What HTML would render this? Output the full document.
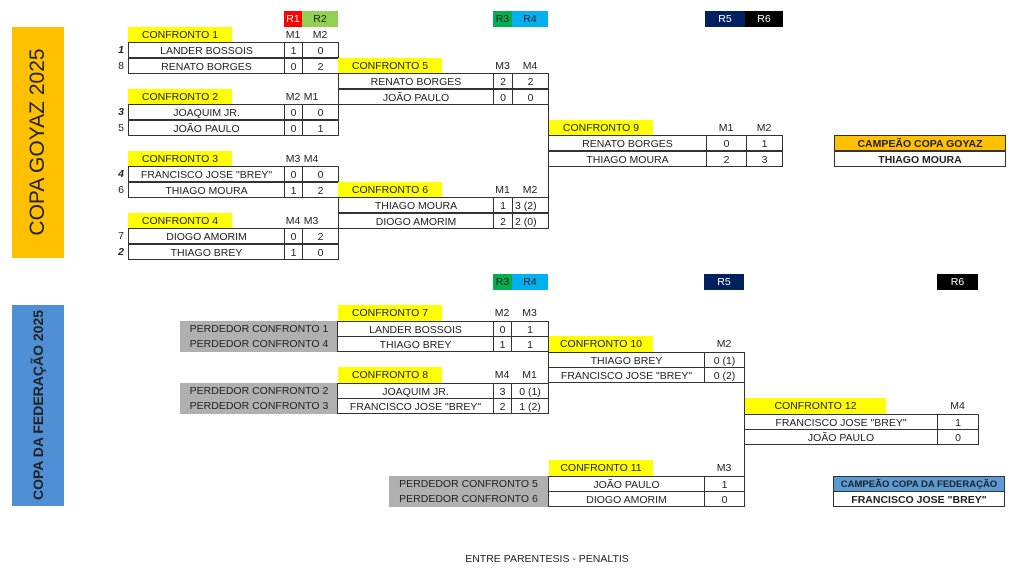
<!DOCTYPE html>
<html><head><meta charset="utf-8"><style>
body{margin:0;width:1024px;height:578px;background:#fff;position:relative;overflow:hidden;font-family:"Liberation Sans Narrow","Liberation Sans",sans-serif;color:#222}
.c{position:absolute;height:16px;line-height:16px;font-size:10.5px;text-align:center;box-sizing:border-box;white-space:nowrap;overflow:hidden}
.b{border:1px solid #333}
.y{background:#ffff00}
.g{background:#b0b0b0}
.n{text-align:right;font-size:10.5px}
.bi{font-weight:bold;font-style:italic}
.v{position:absolute;width:1px;background:#333}
.w{color:#fff}
</style></head><body>

<!-- title boxes -->
<div style="position:absolute;left:12px;top:27px;width:52px;height:231px;background:#ffc000"></div>
<div style="position:absolute;left:38px;top:142px;transform:translate(-50%,-50%) rotate(-90deg);font-family:'Liberation Sans',sans-serif;font-size:21px;white-space:nowrap;color:#222">COPA GOYAZ 2025</div>
<div style="position:absolute;left:12px;top:305px;width:52px;height:201px;background:#4f8fd6"></div>
<div style="position:absolute;left:38px;top:405px;transform:translate(-50%,-50%) rotate(-90deg);font-family:'Liberation Sans',sans-serif;font-size:14px;font-weight:bold;white-space:nowrap;color:#222">COPA DA FEDERAÇÃO 2025</div>

<!-- top round headers -->
<div class="c w" style="left:284px;top:11px;width:18px;background:#ff0000">R1</div>
<div class="c" style="left:302px;top:11px;width:36px;background:#92d050">R2</div>
<div class="c" style="left:493px;top:11px;width:19px;background:#00b050">R3</div>
<div class="c" style="left:512px;top:11px;width:36px;background:#00b0f0">R4</div>
<div class="c w" style="left:705px;top:11px;width:40px;background:#002060">R5</div>
<div class="c w" style="left:745px;top:11px;width:38px;background:#000">R6</div>

<!-- C1 -->
<div class="c y" style="left:128px;top:26.5px;width:104px">CONFRONTO 1</div>
<div class="c" style="left:284px;top:26.5px;width:18px">M1</div>
<div class="c" style="left:302px;top:26.5px;width:36px">M2</div>
<div class="c n bi" style="left:100px;top:42px;width:24px">1</div>
<div class="c n" style="left:100px;top:57.5px;width:24px">8</div>
<div class="c b" style="left:128px;top:42px;width:157px">LANDER BOSSOIS</div>
<div class="c b" style="left:284px;top:42px;width:19px">1</div>
<div class="c b" style="left:302px;top:42px;width:37px">0</div>
<div class="c b" style="left:128px;top:57.5px;width:157px">RENATO BORGES</div>
<div class="c b" style="left:284px;top:57.5px;width:19px">0</div>
<div class="c b" style="left:302px;top:57.5px;width:37px">2</div>

<!-- C2 -->
<div class="c y" style="left:128px;top:88.5px;width:104px">CONFRONTO 2</div>
<div class="c" style="left:284px;top:88.5px;width:18px">M2</div>
<div class="c" style="left:302px;top:88.5px;width:18px">M1</div>
<div class="c n bi" style="left:100px;top:104px;width:24px">3</div>
<div class="c n" style="left:100px;top:119.5px;width:24px">5</div>
<div class="c b" style="left:128px;top:104px;width:157px">JOAQUIM JR.</div>
<div class="c b" style="left:284px;top:104px;width:19px">0</div>
<div class="c b" style="left:302px;top:104px;width:37px">0</div>
<div class="c b" style="left:128px;top:119.5px;width:157px">JOÃO PAULO</div>
<div class="c b" style="left:284px;top:119.5px;width:19px">0</div>
<div class="c b" style="left:302px;top:119.5px;width:37px">1</div>

<!-- C3 -->
<div class="c y" style="left:128px;top:150.5px;width:104px">CONFRONTO 3</div>
<div class="c" style="left:284px;top:150.5px;width:18px">M3</div>
<div class="c" style="left:302px;top:150.5px;width:18px">M4</div>
<div class="c n bi" style="left:100px;top:166px;width:24px">4</div>
<div class="c n" style="left:100px;top:181.5px;width:24px">6</div>
<div class="c b" style="left:128px;top:166px;width:157px">FRANCISCO JOSE "BREY"</div>
<div class="c b" style="left:284px;top:166px;width:19px">0</div>
<div class="c b" style="left:302px;top:166px;width:37px">0</div>
<div class="c b" style="left:128px;top:181.5px;width:157px">THIAGO MOURA</div>
<div class="c b" style="left:284px;top:181.5px;width:19px">1</div>
<div class="c b" style="left:302px;top:181.5px;width:37px">2</div>

<!-- C4 -->
<div class="c y" style="left:128px;top:212.5px;width:104px">CONFRONTO 4</div>
<div class="c" style="left:284px;top:212.5px;width:18px">M4</div>
<div class="c" style="left:302px;top:212.5px;width:18px">M3</div>
<div class="c n" style="left:100px;top:228px;width:24px">7</div>
<div class="c n bi" style="left:100px;top:243.5px;width:24px">2</div>
<div class="c b" style="left:128px;top:228px;width:157px">DIOGO AMORIM</div>
<div class="c b" style="left:284px;top:228px;width:19px">0</div>
<div class="c b" style="left:302px;top:228px;width:37px">2</div>
<div class="c b" style="left:128px;top:243.5px;width:157px">THIAGO BREY</div>
<div class="c b" style="left:284px;top:243.5px;width:19px">1</div>
<div class="c b" style="left:302px;top:243.5px;width:37px">0</div>

<!-- C5 -->
<div class="c y" style="left:338px;top:57.5px;width:104px">CONFRONTO 5</div>
<div class="c" style="left:493px;top:57.5px;width:19px">M3</div>
<div class="c" style="left:512px;top:57.5px;width:36px">M4</div>
<div class="c b" style="left:338px;top:73px;width:156px">RENATO BORGES</div>
<div class="c b" style="left:493px;top:73px;width:20px">2</div>
<div class="c b" style="left:512px;top:73px;width:37px">2</div>
<div class="c b" style="left:338px;top:88.5px;width:156px">JOÃO PAULO</div>
<div class="c b" style="left:493px;top:88.5px;width:20px">0</div>
<div class="c b" style="left:512px;top:88.5px;width:37px">0</div>

<!-- C6 -->
<div class="c y" style="left:338px;top:181.5px;width:104px">CONFRONTO 6</div>
<div class="c" style="left:493px;top:181.5px;width:19px">M1</div>
<div class="c" style="left:512px;top:181.5px;width:36px">M2</div>
<div class="c b" style="left:338px;top:197px;width:156px">THIAGO MOURA</div>
<div class="c b" style="left:493px;top:197px;width:20px">1</div>
<div class="c b" style="left:512px;top:197px;width:37px;text-align:left;padding-left:2px">3 (2)</div>
<div class="c b" style="left:338px;top:212.5px;width:156px">DIOGO AMORIM</div>
<div class="c b" style="left:493px;top:212.5px;width:20px">2</div>
<div class="c b" style="left:512px;top:212.5px;width:37px;text-align:left;padding-left:2px">2 (0)</div>

<div class="v" style="left:548px;top:73px;height:155px"></div>

<!-- C9 -->
<div class="c y" style="left:549px;top:119.5px;width:104px">CONFRONTO 9</div>
<div class="c" style="left:706px;top:119.5px;width:40px">M1</div>
<div class="c" style="left:746px;top:119.5px;width:36px">M2</div>
<div class="c b" style="left:548px;top:135px;width:159px">RENATO BORGES</div>
<div class="c b" style="left:706px;top:135px;width:41px">0</div>
<div class="c b" style="left:746px;top:135px;width:37px">1</div>
<div class="c b" style="left:548px;top:150.5px;width:159px">THIAGO MOURA</div>
<div class="c b" style="left:706px;top:150.5px;width:41px">2</div>
<div class="c b" style="left:746px;top:150.5px;width:37px">3</div>

<div class="c b" style="left:834px;top:135px;width:172px;background:#ffc000;font-weight:bold">CAMPEÃO COPA GOYAZ</div>
<div class="c b" style="left:834px;top:150.5px;width:172px;font-weight:bold">THIAGO MOURA</div>

<!-- bottom headers -->
<div class="c" style="left:493px;top:274px;width:19px;background:#00b050">R3</div>
<div class="c" style="left:512px;top:274px;width:36px;background:#00b0f0">R4</div>
<div class="c w" style="left:704px;top:274px;width:40px;background:#002060">R5</div>
<div class="c w" style="left:937px;top:274px;width:41px;background:#000">R6</div>

<!-- C7 -->
<div class="c y" style="left:338px;top:305px;width:104px">CONFRONTO 7</div>
<div class="c" style="left:493px;top:305px;width:18px">M2</div>
<div class="c" style="left:511px;top:305px;width:37px">M3</div>
<div class="c g" style="left:180px;top:320.5px;width:158px">PERDEDOR CONFRONTO 1</div>
<div class="c g" style="left:180px;top:336px;width:158px">PERDEDOR CONFRONTO 4</div>
<div class="c b" style="left:337px;top:320.5px;width:157px">LANDER BOSSOIS</div>
<div class="c b" style="left:493px;top:320.5px;width:19px">0</div>
<div class="c b" style="left:511px;top:320.5px;width:38px">1</div>
<div class="c b" style="left:337px;top:336px;width:157px">THIAGO BREY</div>
<div class="c b" style="left:493px;top:336px;width:19px">1</div>
<div class="c b" style="left:511px;top:336px;width:38px">1</div>

<!-- C8 -->
<div class="c y" style="left:338px;top:367px;width:104px">CONFRONTO 8</div>
<div class="c" style="left:493px;top:367px;width:18px">M4</div>
<div class="c" style="left:511px;top:367px;width:37px">M1</div>
<div class="c g" style="left:180px;top:382.5px;width:158px">PERDEDOR CONFRONTO 2</div>
<div class="c g" style="left:180px;top:398px;width:158px">PERDEDOR CONFRONTO 3</div>
<div class="c b" style="left:337px;top:382.5px;width:157px">JOAQUIM JR.</div>
<div class="c b" style="left:493px;top:382.5px;width:19px">3</div>
<div class="c b" style="left:511px;top:382.5px;width:38px">0 (1)</div>
<div class="c b" style="left:337px;top:398px;width:157px">FRANCISCO JOSE "BREY"</div>
<div class="c b" style="left:493px;top:398px;width:19px">2</div>
<div class="c b" style="left:511px;top:398px;width:38px">1 (2)</div>

<!-- C10 -->
<div class="c y" style="left:549px;top:336px;width:104px">CONFRONTO 10</div>
<div class="c" style="left:704px;top:336px;width:40px">M2</div>
<div class="c b" style="left:548px;top:351.5px;width:157px">THIAGO BREY</div>
<div class="c b" style="left:704px;top:351.5px;width:41px">0 (1)</div>
<div class="c b" style="left:548px;top:367px;width:157px">FRANCISCO JOSE "BREY"</div>
<div class="c b" style="left:704px;top:367px;width:41px">0 (2)</div>

<div class="v" style="left:744px;top:351.5px;height:155px"></div>

<!-- C11 -->
<div class="c y" style="left:549px;top:460px;width:104px">CONFRONTO 11</div>
<div class="c" style="left:704px;top:460px;width:40px">M3</div>
<div class="c g" style="left:389px;top:475.5px;width:159px">PERDEDOR CONFRONTO 5</div>
<div class="c g" style="left:389px;top:491px;width:159px">PERDEDOR CONFRONTO 6</div>
<div class="c b" style="left:548px;top:475.5px;width:157px">JOÃO PAULO</div>
<div class="c b" style="left:704px;top:475.5px;width:41px">1</div>
<div class="c b" style="left:548px;top:491px;width:157px">DIOGO AMORIM</div>
<div class="c b" style="left:704px;top:491px;width:41px">0</div>

<!-- C12 -->
<div class="c y" style="left:745px;top:398px;width:141px">CONFRONTO 12</div>
<div class="c" style="left:937px;top:398px;width:41px">M4</div>
<div class="c b" style="left:744px;top:413.5px;width:194px">FRANCISCO JOSE "BREY"</div>
<div class="c b" style="left:937px;top:413.5px;width:42px">1</div>
<div class="c b" style="left:744px;top:429px;width:194px">JOÃO PAULO</div>
<div class="c b" style="left:937px;top:429px;width:42px">0</div>

<div class="c b" style="left:833px;top:475.5px;width:172px;background:#5b9bd5;font-weight:bold;font-size:9.5px">CAMPEÃO COPA DA FEDERAÇÃO</div>
<div class="c b" style="left:833px;top:491px;width:172px;font-weight:bold">FRANCISCO JOSE "BREY"</div>

<div class="c" style="left:447px;top:551px;width:200px">ENTRE PARENTESIS - PENALTIS</div>
</body></html>
